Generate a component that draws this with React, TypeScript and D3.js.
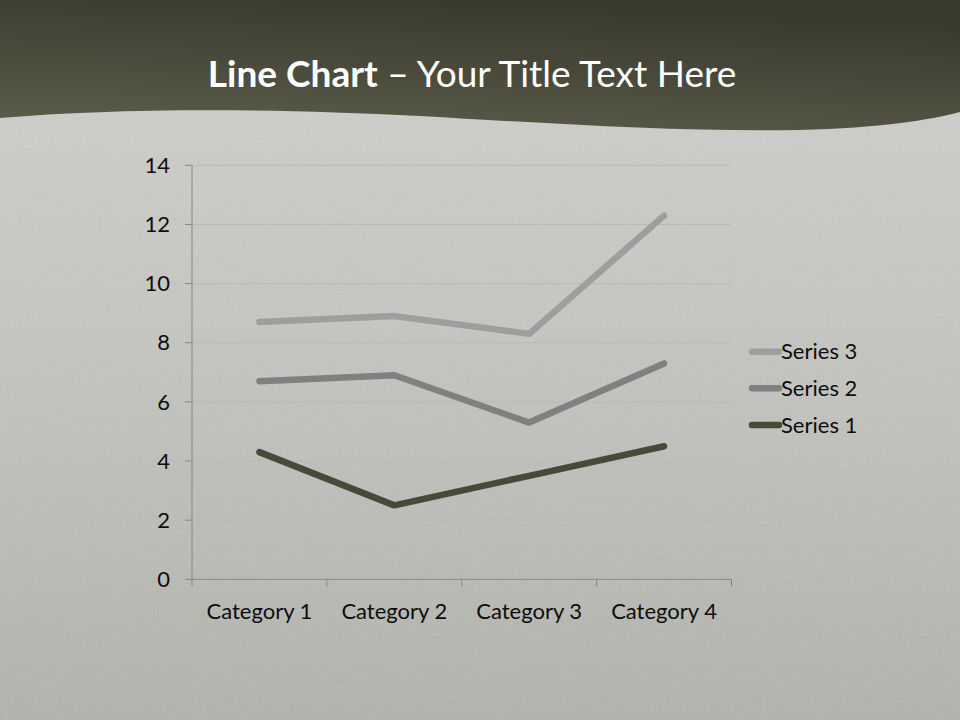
import React from "react";
import * as d3 from "d3";

const categories = ["Category 1", "Category 2", "Category 3", "Category 4"];
const seriesNames = ["Series 1", "Series 2", "Series 3"];
const series1 = [4.3, 2.5, 3.5, 4.5];
const series2 = [2.4, 4.4, 1.8, 2.8];
const series3 = [2, 2, 3, 5];
const yTicks = [0, 2, 4, 6, 8, 10, 12, 14];
const colors = ["#494939", "#808080", "#9e9e9e"];

const W = 960;
const H = 720;
const FONT = "Lato, 'Open Sans', sans-serif";

export default function App() {
  const rows = categories.map((c, i) => ({
    cat: c,
    "Series 1": series1[i],
    "Series 2": series2[i],
    "Series 3": series3[i],
  }));
  const stacked = d3.stack<any>().keys(seriesNames)(rows);

  const x = d3.scaleBand<string>().domain(categories).range([192, 731.5]);
  const y = d3.scaleLinear().domain([0, 14]).range([579.3, 165.3]);

  const line = d3
    .line<any>()
    .x((d) => (x(d.data.cat) as number) + x.bandwidth() / 2)
    .y((d) => y(d[1]));

  const wave = "M0,118 C120,108 260,108 420,116 C560,124 680,132 800,130 C880,128 930,120 960,112 L960,0 L0,0 Z";

  const legendY = [425, 388.3, 351.7];

  return (
    <svg
      width={W}
      height={H}
      style={{ position: "absolute", left: 0, top: 0 }}
      fontFamily={FONT}
    >
      <defs>
        <linearGradient id="bg" x1="0" y1="0" x2="0" y2="1">
          <stop offset="0" stopColor="#cfcfcc" />
          <stop offset="0.45" stopColor="#c4c4c1" />
          <stop offset="1" stopColor="#b2b2ad" />
        </linearGradient>
        <linearGradient id="hdr" x1="0" y1="1" x2="0.35" y2="0">
          <stop offset="0" stopColor="#5e5e4c" />
          <stop offset="1" stopColor="#3a3a2f" />
        </linearGradient>
        <filter id="noise" x="0" y="0" width="100%" height="100%">
          <feTurbulence type="fractalNoise" baseFrequency="0.9" numOctaves="2" seed="3" />
          <feColorMatrix type="matrix" values="0 0 0 0 1  0 0 0 0 1  0 0 0 0 1  0 0 0 0.9 -0.45" />
        </filter>
      </defs>
      <rect x={0} y={0} width={W} height={H} fill="url(#bg)" />
      <rect x={0} y={0} width={W} height={H} filter="url(#noise)" opacity={0.35} />
      <path d={wave} fill="url(#hdr)" />
      <text x={472} y={87} textAnchor="middle" fill="#ffffff" fontSize={37}>
        <tspan fontWeight="bold">Line Chart</tspan>
        <tspan> – Your Title Text Here</tspan>
      </text>

      {/* gridlines */}
      {yTicks.slice(1).map((t) => (
        <line key={t} x1={192} x2={731.5} y1={y(t)} y2={y(t)} stroke="#b9b9b6" strokeWidth={1} />
      ))}
      {/* y axis */}
      <line x1={192} x2={192} y1={y(0)} y2={y(14)} stroke="#868686" strokeWidth={1} />
      {yTicks.map((t) => (
        <g key={t}>
          <line x1={185} x2={192} y1={y(t)} y2={y(t)} stroke="#868686" />
          <text x={170} y={y(t)} dy="0.35em" textAnchor="end" fontSize={22} fill="#0d0d0d">
            {t}
          </text>
        </g>
      ))}
      {/* x axis */}
      <line x1={192} x2={731.5} y1={y(0)} y2={y(0)} stroke="#868686" strokeWidth={1} />
      {[...categories.map((c) => x(c) as number), 731.5].map((v, i) => (
        <line key={i} x1={v} x2={v} y1={y(0)} y2={y(0) + 7} stroke="#868686" />
      ))}
      {categories.map((c) => (
        <text
          key={c}
          x={(x(c) as number) + x.bandwidth() / 2}
          y={611}
          dy="0.35em"
          textAnchor="middle"
          fontSize={22}
          fill="#0d0d0d"
        >
          {c}
        </text>
      ))}

      {/* lines */}
      {stacked.map((s, i) => (
        <path
          key={s.key}
          d={line(s as any) as string}
          fill="none"
          stroke={colors[i]}
          strokeWidth={6.5}
          strokeLinecap="round"
          strokeLinejoin="round"
        />
      ))}

      {/* legend */}
      {seriesNames.map((n, i) => (
        <g key={n}>
          <line x1={752} x2={779} y1={legendY[i]} y2={legendY[i]} stroke={colors[i]} strokeWidth={6.5} strokeLinecap="round" />
          <text x={781} y={legendY[i]} dy="0.35em" fontSize={22} fill="#0d0d0d">
            {n}
          </text>
        </g>
      ))}
    </svg>
  );
}
